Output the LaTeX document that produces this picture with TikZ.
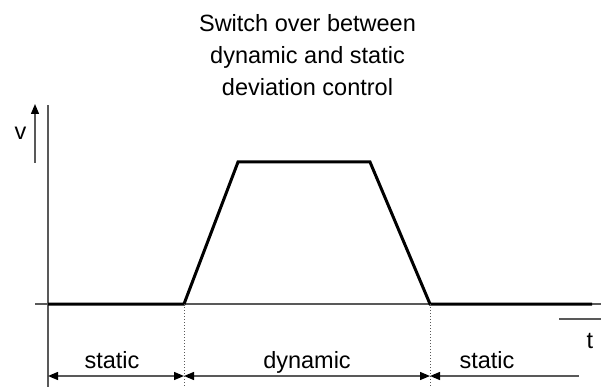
\documentclass[tikz,border=0pt]{standalone}
\usepackage{fontspec}
\setmainfont{Liberation Sans}
\usetikzlibrary{arrows.meta}
\begin{document}
\begin{tikzpicture}[x=1pt,y=-1pt,
  axis/.style={draw=black!65, line width=1.3pt},
  sig/.style={draw=black, line width=3pt, line join=miter},
  guide/.style={draw=black!65, line width=1pt, dotted},
  tipa/.tip={Triangle[length=10pt,width=8pt,fill=black,color=black]},
  dimline/.style={draw=black!65, line width=1.3pt},
  lbl/.style={font=\fontsize{23.5}{29}\selectfont, inner sep=0pt, anchor=base}]
\useasboundingbox (0,0) rectangle (601,387);
% title
\node[lbl, anchor=north, align=center, font=\fontsize{23.5}{31.7}\selectfont] (title) at (307.5,14.5) {Switch over between\\dynamic and static\\deviation control};
% axes
\coordinate (ytop) at (48,105);
\coordinate (ybot) at (48,387);
\coordinate (xl) at (35,304);
\coordinate (xr) at (601,304);
\draw[axis] (ybot) -- (ytop);
\draw[axis] (xl) -- (xr);
% v arrow
\coordinate (v0) at (35,163);
\coordinate (v1) at (35,104);
\draw[axis, -{Triangle[length=10pt,width=8pt,fill=black,color=black]}] (v0) -- (v1);
\node[lbl] (v) at (20.5,140) {v};
% t
\coordinate (t0) at (559,319);
\coordinate (t1) at (601,319);
\draw[axis] (t0) -- (t1);
\node[lbl] (t) at (590,348) {t};
% signal
\coordinate (s0) at (48,304);
\coordinate (s1) at (184,304);
\coordinate (s2) at (238,162);
\coordinate (s3) at (370,162);
\coordinate (s4) at (430,304);
\coordinate (s5) at (592,304);
\draw[sig] (s0) -- (s1) -- (s2) -- (s3) -- (s4) -- (s5);
% guides
\coordinate (d1) at (184,387);
\coordinate (d2) at (430,387);
\draw[guide] (s1) -- (d1);
\draw[guide] (s4) -- (d2);
% dimension arrows
\coordinate (a0) at (48,376);
\coordinate (a1) at (184,376);
\coordinate (a2) at (430,376);
\coordinate (a3) at (579,376);
\draw[dimline, tipa-tipa] (a0) -- (a1);
\draw[dimline, tipa-tipa] (a1) -- (a2);
\draw[dimline, tipa-] (a2) -- (a3);
\node[lbl] (st1) at (112,368) {static};
\node[lbl] (dyn) at (307,368) {dynamic};
\node[lbl] (st2) at (487,368) {static};
\end{tikzpicture}
\end{document}
